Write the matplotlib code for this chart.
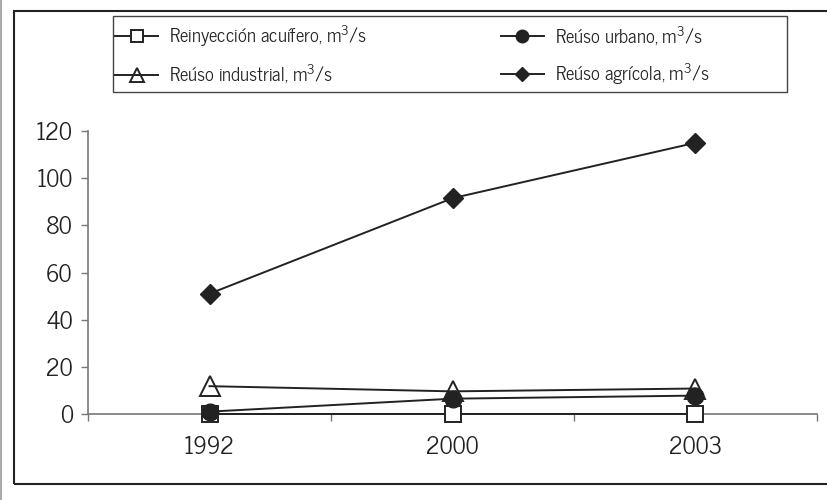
import matplotlib.pyplot as plt
from matplotlib.patches import Rectangle
from matplotlib.lines import Line2D

plt.rcParams['font.family'] = ['News Cycle', 'DejaVu Sans']
plt.rcParams['mathtext.fontset'] = 'custom'
plt.rcParams['mathtext.rm'] = 'News Cycle'
plt.rcParams['mathtext.it'] = 'News Cycle'

years = ['1992', '2000', '2003']
reinyeccion = [0, 0, 0]
urbano = [1, 6.5, 7.8]
industrial = [11.8, 9.6, 10.8]
agricola = [51, 91.5, 115]

labels = ['Reinyección acuífero, m$^{3}$/s', 'Reúso urbano, m$^{3}$/s',
          'Reúso industrial, m$^{3}$/s', 'Reúso agrícola, m$^{3}$/s']

ink = '#222222'
fig = plt.figure(figsize=(8.28, 5.0), dpi=100)
ax = fig.add_axes([0.1063, 0.172, 0.8804, 0.566])

x = list(range(len(years)))
h1, = ax.plot(x, reinyeccion, '-', color=ink, lw=1.4, marker='s', ms=11,
              mfc='white', mec=ink, mew=1.4, zorder=3, clip_on=False)
h2, = ax.plot(x, urbano, '-', color=ink, lw=1.4, marker='o', ms=12,
              mfc=ink, mec=ink, zorder=4, clip_on=False)
h3, = ax.plot(x, industrial, '-', color=ink, lw=1.4, marker='^', ms=14,
              mfc='none', mec=ink, mew=1.4, zorder=5, clip_on=False)
h4, = ax.plot(x, agricola, '-', color=ink, lw=1.4, marker='D', ms=10,
              mfc=ink, mec=ink, zorder=4, clip_on=False)

ax.set_xlim(-0.5, 2.5)
ax.set_ylim(0, 120)
ax.set_yticks(range(0, 121, 20))
ax.set_xticks(x)
ax.set_xticklabels(years)
ax.set_xticks([-0.5, 0.5, 1.5, 2.5], minor=True)
ax.tick_params(axis='x', which='major', length=0, pad=16, labelsize=17, labelcolor=ink)
ax.tick_params(axis='x', which='minor', length=5, width=1, color='#777777', direction='out')
ax.tick_params(axis='y', length=5, width=1, color='#777777', pad=6, labelsize=17, labelcolor=ink)
for s in ['top', 'right']:
    ax.spines[s].set_visible(False)
for s in ['left', 'bottom']:
    ax.spines[s].set_color('#777777')
    ax.spines[s].set_linewidth(1.2)
ax.patch.set_alpha(0)

# legend filled column-wise, so order the handles to read row by row
leg = fig.legend([h1, h3, h2, h4], [labels[0], labels[2], labels[1], labels[3]],
                 ncol=2, loc='upper left', frameon=False,
                 bbox_to_anchor=(115 / 828, 1 - 24 / 500), fontsize=13.5,
                 markerscale=0.75, handlelength=2.3, handletextpad=0.6,
                 columnspacing=7.1, labelspacing=0.75, borderpad=0,
                 borderaxespad=0)
for t in leg.get_texts():
    t.set_color(ink)

# legend box
fig.patches.append(Rectangle((113 / 828, 1 - 92 / 500), 674 / 828, 76 / 500,
                             transform=fig.transFigure, fill=False,
                             edgecolor='#444444', lw=1.0))
# outer frame, open on the right
fig.patches.append(Rectangle((14 / 828, 16 / 500), 1.0, 1 - 27 / 500,
                             transform=fig.transFigure, fill=False,
                             edgecolor='#222222', lw=1.5, clip_on=False))
fig.lines.append(Line2D([1 / 828, 1 / 828], [0, 1], transform=fig.transFigure,
                        color='#999999', lw=1.2))

fig.savefig('out.png', dpi=100)
